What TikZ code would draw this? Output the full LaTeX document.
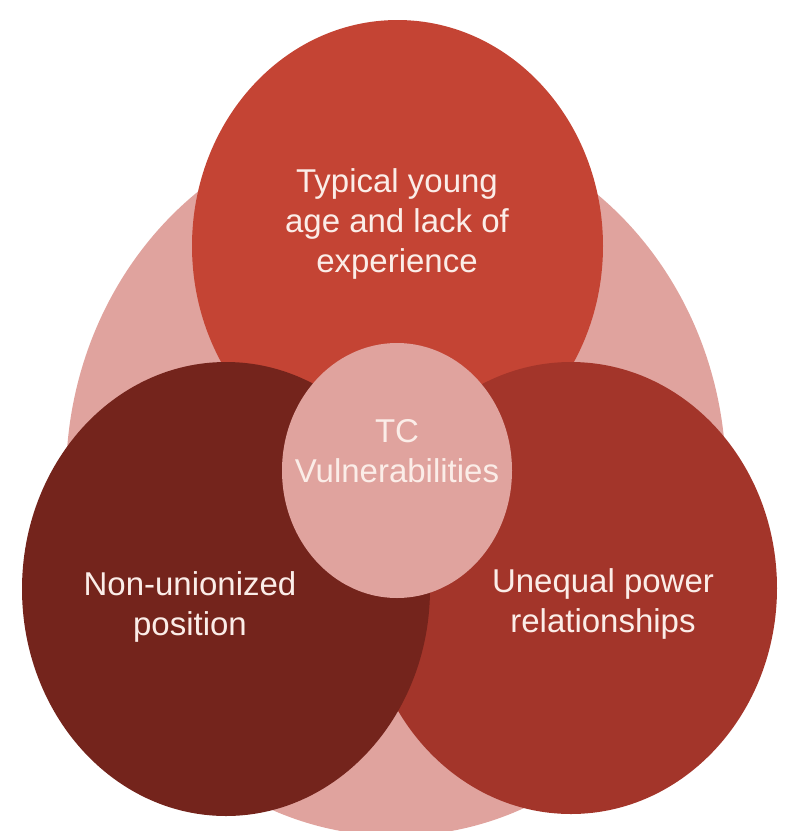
\documentclass[tikz,border=0pt]{standalone}
\usepackage{fontspec}
\setmainfont{Liberation Sans}
\usetikzlibrary{shapes.geometric}
\definecolor{bgpink}{HTML}{E0A39E}
\definecolor{topred}{HTML}{C44434}
\definecolor{rightred}{HTML}{A3352A}
\definecolor{leftred}{HTML}{74241C}
\definecolor{txtcol}{HTML}{FBEDE8}
\tikzset{
  blob/.style={ellipse, draw=none, inner sep=0pt, outer sep=0pt},
  lbl/.style={text=txtcol, align=center, inner sep=0pt, font=\fontsize{33}{40}\selectfont}
}
\begin{document}
\begin{tikzpicture}[x=1pt,y=-1pt]
\useasboundingbox (0,0) rectangle (794,831);
\clip (0,0) rectangle (794,831);
\node[blob, fill=bgpink, minimum width=660pt, minimum height=716pt] (bg) at (396,478) {};
\node[blob, fill=topred, minimum width=411pt, minimum height=452pt] (top) at (397.5,246) {};
\node[blob, fill=rightred, minimum width=412pt, minimum height=452pt] (right) at (571,588) {};
\node[blob, fill=leftred, minimum width=408pt, minimum height=454pt] (left) at (226,589) {};
\node[blob, fill=bgpink, minimum width=230pt, minimum height=255pt] (center) at (397,470.5) {};
\node[lbl] (toptxt) at (397,223.5) {Typical young\\age and lack of\\experience};
\node[lbl] (lefttxt) at (190,606.5) {Non-unionized\\position};
\node[lbl] (righttxt) at (603,604) {Unequal power\\relationships};
\node[lbl] (centertxt) at (397,451) {TC\\Vulnerabilities};
\end{tikzpicture}
\end{document}
